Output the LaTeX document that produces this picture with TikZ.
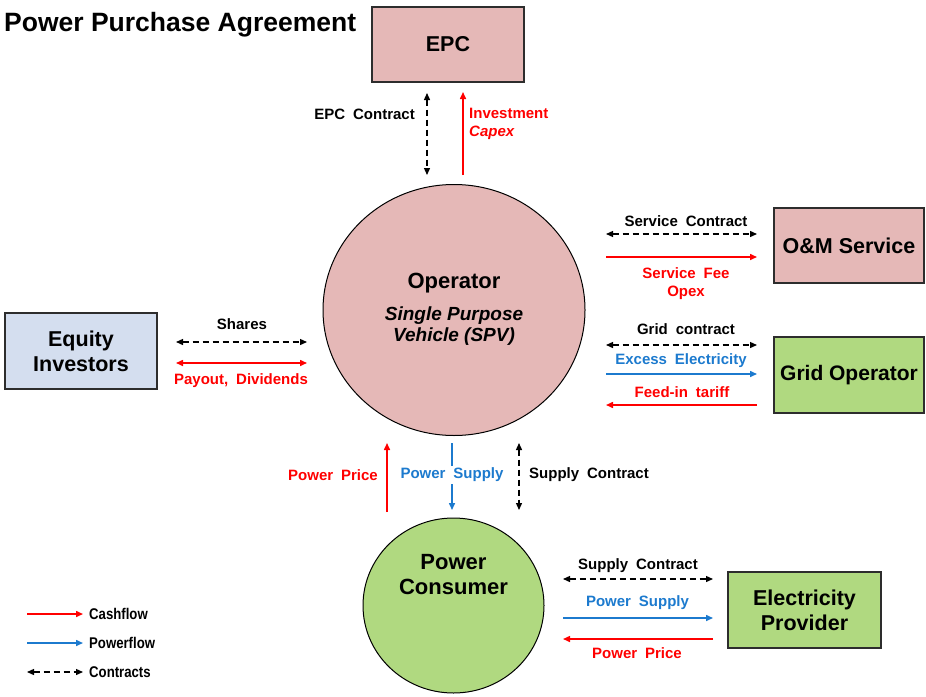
\documentclass[tikz,border=0pt]{standalone}
\usepackage{fontspec}
\setmainfont{Liberation Sans}
\newfontfamily\lblfont[WordSpace=1.9]{Liberation Sans}
\newfontfamily\keyfont[FakeStretch=0.85]{Liberation Sans}
\usetikzlibrary{arrows.meta,shapes.geometric}

\definecolor{spvpink}{RGB}{229,184,183}
\definecolor{leafgreen}{RGB}{176,217,128}
\definecolor{paleblue}{RGB}{212,222,239}
\definecolor{flowblue}{RGB}{28,122,206}
\definecolor{cashred}{RGB}{255,0,0}
\definecolor{boxline}{RGB}{45,45,45}

\begin{document}
\begin{tikzpicture}[x=1pt,y=-1pt,>={Triangle[length=7pt,width=6pt]},
  every node/.style={font=\bfseries},
  party/.style={draw=boxline,line width=1.4pt,minimum width=152pt,minimum height=75pt,
    align=center,inner sep=0pt,font=\fontsize{21.5}{25}\selectfont\bfseries},
  hub/.style={draw=black,line width=1pt,ellipse,inner sep=0pt},
  lbl/.style={inner sep=0pt,align=center,font=\lblfont\fontsize{15}{18}\selectfont\bfseries},
  cash/.style={draw=cashred,line width=1.5pt,->},
  power/.style={draw=flowblue,line width=1.5pt,->},
  deal/.style={draw=black,line width=1.3pt,dash pattern=on 6pt off 4pt,<->}]
\useasboundingbox (0,0) rectangle (926,696);

\node[anchor=west,inner sep=0pt,font=\fontsize{26.5}{30}\selectfont\bfseries] (title) at (4,25) {Power Purchase Agreement};

% parties
\node[party,fill=spvpink] (epc) at (448,44.5) {EPC};
\node[party,fill=spvpink,minimum width=150pt] (om) at (849,245.5) {O\&M Service};
\node[party,fill=leafgreen,minimum width=150pt,minimum height=76pt,font=\fontsize{21}{25}\selectfont\bfseries] (grid) at (849,375) {Grid Operator};
\node[party,fill=paleblue,minimum height=76pt] (eq) at (81,351) {Equity\\Investors};
\node[party,fill=leafgreen,minimum width=153pt,minimum height=76pt] (ep) at (804.5,610) {Electricity\\Provider};

\node[hub,fill=spvpink,minimum width=262pt,minimum height=251pt] (spv) at (454,310) {};
\node[font=\fontsize{22}{25}\selectfont\bfseries] (spvname) at (454,283) {Operator};
\node[align=center,font=\fontsize{19}{21}\selectfont\bfseries\itshape] (spvsub) at (454,326.5) {Single Purpose\\Vehicle (SPV)};

\node[hub,fill=leafgreen,minimum width=181pt,minimum height=175pt] (pc) at (453.5,605.5) {};
\node[align=center,font=\fontsize{22}{25}\selectfont\bfseries] (pcname) at (453.5,574.5) {Power\\Consumer};

% EPC side
\coordinate (ec1) at (427,93);
\coordinate (ec2) at (427,175);
\draw[deal] (ec1) -- (ec2);
\node[lbl,anchor=east] (eclbl) at (415,114) {EPC Contract};
\coordinate (iv1) at (463,175);
\coordinate (iv2) at (463,92);
\draw[cash] (iv1) -- (iv2);
\node[lbl,anchor=north west,align=left,text=cashred] (ivlbl) at (469,108) {Investment\\\textit{Capex}};

% O&M and grid side
\coordinate (sc1) at (606,234);
\coordinate (sc2) at (757,234);
\draw[deal] (sc1) -- (sc2);
\node[lbl] (sclbl) at (686,221) {Service Contract};
\coordinate (sf1) at (606,257);
\coordinate (sf2) at (757,257);
\draw[cash] (sf1) -- (sf2);
\node[lbl,text=cashred] (sflbl) at (686,284) {Service Fee\\Opex};

\coordinate (gc1) at (606,345);
\coordinate (gc2) at (757,345);
\draw[deal] (gc1) -- (gc2);
\node[lbl] (gclbl) at (686,329) {Grid contract};
\coordinate (xe1) at (606,374);
\coordinate (xe2) at (757,374);
\draw[power] (xe1) -- (xe2);
\node[lbl,text=flowblue] (xelbl) at (681,361) {Excess Electricity};
\coordinate (ft1) at (757,405);
\coordinate (ft2) at (606,405);
\draw[cash] (ft1) -- (ft2);
\node[lbl,text=cashred] (ftlbl) at (682,392) {Feed-in tariff};

% investors
\coordinate (sh1) at (176,342);
\coordinate (sh2) at (307,342);
\draw[deal] (sh1) -- (sh2);
\node[lbl] (shlbl) at (242,324) {Shares};
\coordinate (dv1) at (176,363);
\coordinate (dv2) at (307,363);
\draw[cash,<->] (dv1) -- (dv2);
\node[lbl,text=cashred] (dvlbl) at (241,381) {Payout, Dividends};

% operator to consumer
\coordinate (pp1) at (387,512);
\coordinate (pp2) at (387,443);
\draw[cash] (pp1) -- (pp2);
\node[lbl,anchor=east,text=cashred] (pplbl) at (378,475) {Power Price};
\coordinate (ps1) at (452,443);
\coordinate (ps2) at (452,510);
\draw[power] (ps1) -- (ps2);
\node[lbl,fill=white,inner sep=2pt,text=flowblue] (pslbl) at (452,475) {Power Supply};
\coordinate (su1) at (519,443);
\coordinate (su2) at (519,510);
\draw[deal] (su1) -- (su2);
\node[lbl,anchor=west] (sulbl) at (529,475) {Supply Contract};

% consumer to provider
\coordinate (cs1) at (563,579);
\coordinate (cs2) at (713,579);
\draw[deal] (cs1) -- (cs2);
\node[lbl] (cslbl) at (638,566) {Supply Contract};
\coordinate (cp1) at (563,618);
\coordinate (cp2) at (713,618);
\draw[power] (cp1) -- (cp2);
\node[lbl,text=flowblue] (cplbl) at (637.5,603) {Power Supply};
\coordinate (cm1) at (713,639);
\coordinate (cm2) at (563,639);
\draw[cash] (cm1) -- (cm2);
\node[lbl,text=cashred] (cmlbl) at (637,653) {Power Price};

% legend
\coordinate (k1) at (27,614);
\coordinate (k2) at (83,614);
\coordinate (k3) at (27,643);
\coordinate (k4) at (83,643);
\coordinate (k5) at (27,672);
\coordinate (k6) at (83,672);
\draw[cash] (k1) -- (k2);
\draw[power] (k3) -- (k4);
\draw[deal] (k5) -- (k6);
\node[anchor=west,inner sep=0pt,font=\keyfont\fontsize{15.5}{18}\selectfont\bfseries] (kcash) at (89,614) {Cashflow};
\node[anchor=west,inner sep=0pt,font=\keyfont\fontsize{15.5}{18}\selectfont\bfseries] (kpower) at (89,643) {Powerflow};
\node[anchor=west,inner sep=0pt,font=\keyfont\fontsize{15.5}{18}\selectfont\bfseries] (kdeal) at (89,672) {Contracts};
\end{tikzpicture}
\end{document}
